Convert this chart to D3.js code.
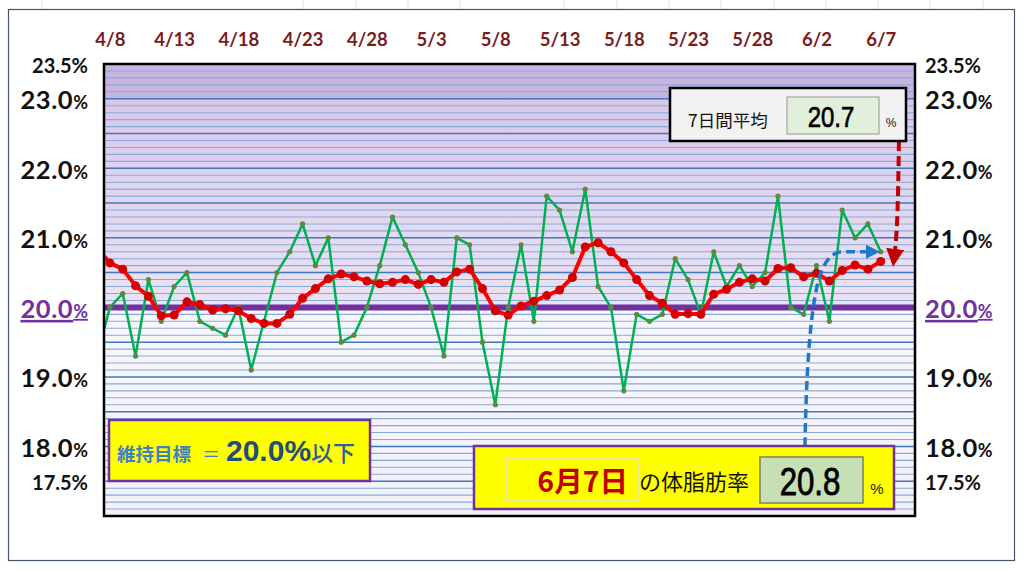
<!DOCTYPE html>
<html>
<head>
<meta charset="utf-8">
<script src="https://cdn.jsdelivr.net/npm/d3@7"></script>
<style>
  body { margin: 0; background: #fff; }
  svg { display: block; }
</style>
</head>
<body>
<div class="chart"></div>
<script>
// daily data from 4/7 (just left of the plot) to 6/7
const dates = d3.timeDay.range(new Date(2023, 3, 7), new Date(2023, 5, 8))

// body fat % per day (green)
const bodyFat = [
  19.3,
  20.0, 20.2, 19.3, 20.4, 19.8, 20.3, 20.5, 19.8, 19.7, 19.6,
  20.0, 19.1, 19.8, 20.5, 20.8, 21.2, 20.6, 21.0, 19.5, 19.6,
  20.0, 20.6, 21.3, 20.9, 20.5, 20.0, 19.3, 21.0, 20.9, 19.5,
  18.6, 20.0, 20.9, 19.8, 21.6, 21.4, 20.8, 21.7, 20.3, 20.0,
  18.8, 19.9, 19.8, 19.9, 20.7, 20.4, 19.9, 20.8, 20.3, 20.6,
  20.3, 20.5, 21.6, 20.0, 19.9, 20.6, 19.8, 21.4, 21.0, 21.2,
  20.8
]

// 7 day average (red)
const avg7 = [
  20.85,
  20.64, 20.55, 20.31, 20.16, 19.88, 19.89, 20.08, 20.04, 19.96, 19.98,
  19.95, 19.84, 19.77, 19.77, 19.90, 20.13, 20.27, 20.41, 20.48, 20.44,
  20.38, 20.34, 20.36, 20.40, 20.33, 20.40, 20.36, 20.51, 20.55, 20.27,
  19.95, 19.89, 20.02, 20.09, 20.17, 20.25, 20.43, 20.87, 20.93, 20.80,
  20.64, 20.40, 20.17, 20.06, 19.90, 19.91, 19.90, 20.19, 20.26, 20.36,
  20.41, 20.38, 20.56, 20.57, 20.44, 20.49, 20.38, 20.53, 20.61, 20.55,
  20.66
]

const tickLabels = ["4/8","4/13","4/18","4/23","4/28","5/3","5/8","5/13","5/18","5/23","5/28","6/2","6/7"]
const yTickLabels = [23.5, 23.0, 22.0, 21.0, 20.0, 19.0, 18.0, 17.5]
const target = 20.0

const W = 1024, H = 572
const plot = { left: 104, right: 915, top: 64, bottom: 516 }

const svg = d3.select(".chart")
  .append("svg")
  .attr("width", W)
  .attr("height", H)

const x = d3.scaleTime()
  .domain([d3.timeHour.offset(new Date(2023, 3, 8), -11), d3.timeHour.offset(new Date(2023, 5, 9), 16)])
  .range([plot.left, plot.right])

const y = d3.scaleLinear()
  .domain([17, 23.5])
  .range([plot.bottom, plot.top])

const parseMD = s => { const [m, d] = s.split("/").map(Number); return new Date(2023, m - 1, d) }
const fmt1 = d3.format(".1f")
const narrow = "'Liberation Sans Narrow', 'Arial Narrow', 'Liberation Sans', sans-serif"

// excel sheet grid peeking at the top
svg.selectAll(".cell").data([42, 303, 356, 408, 460, 564, 617, 669, 721, 774, 826, 878, 930, 983])
  .join("line")
  .attr("x1", d => d).attr("x2", d => d)
  .attr("y1", 0).attr("y2", 9)
  .attr("stroke", "#e3e3e3")

// outer frame
svg.append("rect")
  .attr("x", 8.5).attr("y", 9.5)
  .attr("width", 1006).attr("height", 551)
  .attr("fill", "#fff")
  .attr("stroke", "#44546a")
  .attr("stroke-width", 1.2)

const defs = svg.append("defs")
const g1 = defs.append("linearGradient").attr("id", "upper").attr("x1", 0).attr("x2", 0).attr("y1", 0).attr("y2", 1)
g1.append("stop").attr("offset", "0%").attr("stop-color", "#d8c8e8")
g1.append("stop").attr("offset", "100%").attr("stop-color", "#ebe3f3")
const g2 = defs.append("linearGradient").attr("id", "lower").attr("x1", 0).attr("x2", 0).attr("y1", 0).attr("y2", 1)
g2.append("stop").attr("offset", "0%").attr("stop-color", "#f8f6fb")
g2.append("stop").attr("offset", "100%").attr("stop-color", "#f3f0f8")

defs.append("clipPath").attr("id", "clip")
  .append("rect")
  .attr("x", plot.left).attr("y", plot.top)
  .attr("width", plot.right - plot.left).attr("height", plot.bottom - plot.top)

// background bands
svg.append("rect")
  .attr("x", plot.left).attr("width", plot.right - plot.left)
  .attr("y", y(23.5)).attr("height", y(23.0) - y(23.5))
  .attr("fill", "#c8b4dc")
svg.append("rect")
  .attr("x", plot.left).attr("width", plot.right - plot.left)
  .attr("y", y(23.0)).attr("height", y(target) - y(23.0))
  .attr("fill", "url(#upper)")
svg.append("rect")
  .attr("x", plot.left).attr("width", plot.right - plot.left)
  .attr("y", y(target)).attr("height", y(17) - y(target))
  .attr("fill", "url(#lower)")

// horizontal grid every 0.1
const isHalf = d => Math.abs(d * 2 - Math.round(d * 2)) < 1e-6
const gridVals = y.ticks(65).filter(v => v > 17.01 && v < 23.49)
svg.append("g")
  .selectAll("line")
  .data(gridVals)
  .join("line")
  .attr("x1", plot.left).attr("x2", plot.right)
  .attr("y1", d => y(d)).attr("y2", d => y(d))
  .attr("stroke", d => isHalf(d) ? "#4079bf" : "#86abda")
  .attr("stroke-width", d => isHalf(d) ? 1.5 : 1.1)

// target line
svg.append("line")
  .attr("x1", plot.left).attr("x2", plot.right)
  .attr("y1", y(target)).attr("y2", y(target))
  .attr("stroke", "#7030a0")
  .attr("stroke-width", 6)

const series = dates.map((d, i) => ({ date: d, fat: bodyFat[i], avg: avg7[i] }))
const lines = svg.append("g").attr("clip-path", "url(#clip)")

lines.append("path")
  .datum(series)
  .attr("fill", "none")
  .attr("stroke", "#00b050")
  .attr("stroke-width", 2.5)
  .attr("stroke-linejoin", "round")
  .attr("d", d3.line().x(d => x(d.date)).y(d => y(d.fat)))

lines.selectAll(".gdot")
  .data(series)
  .join("circle")
  .attr("class", "gdot")
  .attr("cx", d => x(d.date))
  .attr("cy", d => y(d.fat))
  .attr("r", 2.6)
  .attr("fill", "#5b8a3c")

lines.append("path")
  .datum(series)
  .attr("fill", "none")
  .attr("stroke", "#ff0000")
  .attr("stroke-width", 4)
  .attr("stroke-linejoin", "round")
  .attr("d", d3.line().x(d => x(d.date)).y(d => y(d.avg)))

lines.selectAll(".rdot")
  .data(series)
  .join("circle")
  .attr("class", "rdot")
  .attr("cx", d => x(d.date))
  .attr("cy", d => y(d.avg))
  .attr("r", 4.5)
  .attr("fill", "#d40000")

// plot border
svg.append("rect")
  .attr("x", plot.left).attr("y", plot.top)
  .attr("width", plot.right - plot.left).attr("height", plot.bottom - plot.top)
  .attr("fill", "none")
  .attr("stroke", "#000")
  .attr("stroke-width", 2.5)

// top date axis
const xAxis = svg.append("g")
  .attr("transform", `translate(0,${plot.top})`)
  .call(d3.axisTop(x).tickValues(tickLabels.map(parseMD)).tickFormat(d3.timeFormat("%-m/%-d")).tickSize(0).tickPadding(18))
xAxis.select(".domain").remove()
xAxis.selectAll("text")
  .attr("fill", "#7b1c1c")
  .attr("font-family", "Lato, 'Open Sans', sans-serif")
  .attr("font-weight", 700)
  .attr("font-size", 18.5)

// y labels, both sides
function styleY(axisG, anchor) {
  axisG.select(".domain").remove()
  axisG.selectAll(".tick text").each(function (v) {
    const t = d3.select(this)
    const small = (v === 23.5 || v === 17.5)
    const isTarget = v === target
    t.text(null)
      .attr("dy", null)
      .attr("y", small ? 8 : 10)
      .attr("text-anchor", anchor)
      .attr("font-family", "Lato, 'Open Sans', sans-serif")
      .attr("font-weight", 700)
      .attr("fill", isTarget ? "#7030a0" : "#111")
      .attr("text-decoration", isTarget ? "underline" : null)
    t.append("tspan").attr("font-size", small ? 20 : 25.5).attr("letter-spacing", small ? 0 : 0.6).text(fmt1(v))
    t.append("tspan").attr("font-size", small ? 20 : 18).text("%")
  })
}
const yLeft = svg.append("g")
  .attr("transform", `translate(${plot.left},0)`)
  .call(d3.axisLeft(y).tickValues(yTickLabels).tickSize(0).tickPadding(16))
styleY(yLeft, "end")
const yRight = svg.append("g")
  .attr("transform", `translate(${plot.right},0)`)
  .call(d3.axisRight(y).tickValues(yTickLabels).tickSize(0).tickPadding(10))
styleY(yRight, "start")

// arrows
defs.append("marker").attr("id", "blueHead")
  .attr("viewBox", "0 0 10 10").attr("refX", 2).attr("refY", 5)
  .attr("markerWidth", 4).attr("markerHeight", 4).attr("markerUnits", "strokeWidth")
  .attr("orient", "auto")
  .append("path").attr("d", "M0,0 L10,5 L0,10 Z").attr("fill", "#1f78c8")
defs.append("marker").attr("id", "redHead")
  .attr("viewBox", "0 0 10 10").attr("refX", 2).attr("refY", 5)
  .attr("markerWidth", 4.5).attr("markerHeight", 4.5).attr("markerUnits", "strokeWidth")
  .attr("orient", "auto")
  .append("path").attr("d", "M0,0 L10,5 L0,10 Z").attr("fill", "#c00000")

const lastDate = dates[dates.length - 1]
const lastFat = bodyFat[bodyFat.length - 1]
const lastAvg = avg7[avg7.length - 1]

svg.append("path")
  .attr("d", `M805,446 C806,380 810,290 824,266 Q831,${y(lastFat)} 843,${y(lastFat)} L${x(lastDate) - 12},${y(lastFat)}`)
  .attr("fill", "none")
  .attr("stroke", "#1f78c8")
  .attr("stroke-width", 3.5)
  .attr("stroke-dasharray", "9,5")
  .attr("marker-end", "url(#blueHead)")

svg.append("path")
  .attr("d", `M899,141 C898,190 898,225 ${x(lastDate) + 14},${y(lastAvg) - 9}`)
  .attr("fill", "none")
  .attr("stroke", "#c00000")
  .attr("stroke-width", 4)
  .attr("stroke-dasharray", "10,5")
  .attr("marker-end", "url(#redHead)")

// 7-day average box
svg.append("rect")
  .attr("x", 670).attr("y", 88).attr("width", 236).attr("height", 53)
  .attr("fill", "#f2f2f2").attr("stroke", "#000").attr("stroke-width", 2.5)
svg.append("text")
  .attr("x", 688).attr("y", 127)
  .attr("font-family", "'Noto Sans CJK JP', sans-serif")
  .attr("font-size", 17.5)
  .attr("fill", "#111")
  .text("7日間平均")
svg.append("rect")
  .attr("x", 787).attr("y", 97).attr("width", 92).attr("height", 37)
  .attr("fill", "#e2efda").attr("stroke", "#a6a6a6").attr("stroke-width", 1.2)
svg.append("text")
  .attr("transform", "translate(831,127) scale(0.8,1)")
  .attr("text-anchor", "middle")
  .attr("font-family", narrow)
  .attr("font-size", 30)
  .attr("fill", "#000")
  .attr("stroke", "#000")
  .attr("stroke-width", 0.7)
  .text(fmt1(lastAvg))
svg.append("text")
  .attr("x", 891).attr("y", 127)
  .attr("text-anchor", "middle")
  .attr("font-family", "'Liberation Sans', sans-serif")
  .attr("font-size", 12)
  .attr("fill", "#222")
  .text("%")

// target box
svg.append("rect")
  .attr("x", 109).attr("y", 420).attr("width", 261).attr("height", 61)
  .attr("fill", "#ffff00").attr("stroke", "#7030a0").attr("stroke-width", 2.5)
const tgt = svg.append("text")
  .attr("y", 461)
  .attr("font-family", "'Noto Sans CJK JP', sans-serif")
  .attr("font-weight", 700)
tgt.append("tspan").attr("x", 117).attr("font-size", 18.5).attr("fill", "#4180c0").text("維持目標")
tgt.append("tspan").attr("x", 202).attr("font-size", 18).attr("font-weight", 400).attr("fill", "#4180c0").text("＝")
tgt.append("tspan").attr("x", 226).attr("font-size", 30).attr("fill", "#1f4e79")
  .attr("font-family", "'Liberation Sans', sans-serif")
  .text(fmt1(target) + "%")
tgt.append("tspan").attr("x", 311).attr("font-size", 22).attr("font-weight", 500).attr("fill", "#2f5f96").text("以下")

// today's value box
svg.append("rect")
  .attr("x", 474).attr("y", 446).attr("width", 420).attr("height", 63)
  .attr("fill", "#ffff00").attr("stroke", "#7030a0").attr("stroke-width", 2.5)
svg.append("rect")
  .attr("x", 506).attr("y", 459).attr("width", 132).attr("height", 41)
  .attr("fill", "#ffff00").attr("stroke", "#e6e6d0").attr("stroke-width", 1.5)
svg.append("text")
  .attr("x", 628).attr("y", 492)
  .attr("text-anchor", "end")
  .attr("font-family", "'Noto Sans CJK JP', sans-serif")
  .attr("font-weight", 700)
  .attr("font-size", 28.5)
  .attr("fill", "#c00000")
  .text(d3.timeFormat("%-m月%-d日")(lastDate))
svg.append("text")
  .attr("x", 639).attr("y", 490)
  .attr("font-family", "'Noto Sans CJK JP', sans-serif")
  .attr("font-size", 22)
  .attr("fill", "#111")
  .text("の体脂肪率")
svg.append("rect")
  .attr("x", 760).attr("y", 457).attr("width", 103).attr("height", 46)
  .attr("fill", "#c6e0b4").attr("stroke", "#808060").attr("stroke-width", 1.5)
svg.append("text")
  .attr("transform", "translate(810,495) scale(0.8,1)")
  .attr("text-anchor", "middle")
  .attr("font-family", narrow)
  .attr("font-size", 39)
  .attr("fill", "#000")
  .attr("stroke", "#000")
  .attr("stroke-width", 0.9)
  .text(fmt1(lastFat))
svg.append("text")
  .attr("x", 877).attr("y", 494)
  .attr("text-anchor", "middle")
  .attr("font-family", "'Liberation Sans', sans-serif")
  .attr("font-size", 15)
  .attr("fill", "#222")
  .text("%")
</script>
</body>
</html>
